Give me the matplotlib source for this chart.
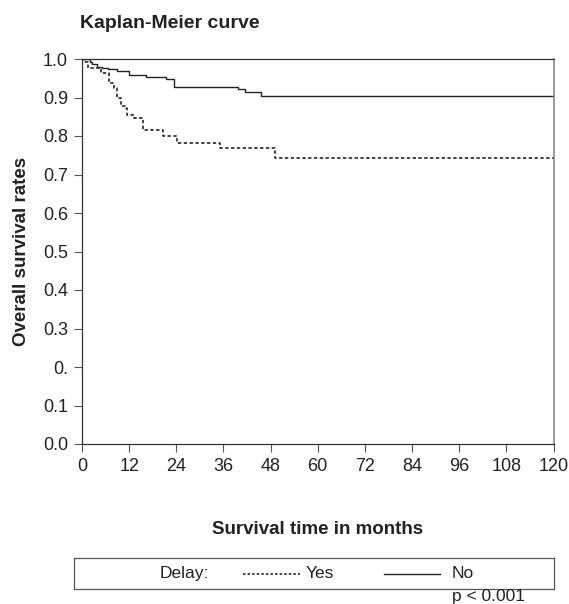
import matplotlib
matplotlib.use("Agg")
import matplotlib.pyplot as plt

plt.rcParams['font.family'] = ['Liberation Sans', 'DejaVu Sans']

# Kaplan-Meier step data (months, survival rate)
yes_t = [0, 0.6, 1.4, 4.9, 6.9, 8.2, 9.0, 10.0, 11.1, 11.5, 13.2, 15.6, 20.5, 24.2, 35.2, 49.2, 120]
yes_s = [1.0, 0.992, 0.977, 0.964, 0.938, 0.925, 0.900, 0.878, 0.872, 0.854, 0.846, 0.815, 0.800, 0.783, 0.768, 0.742, 0.742]

no_t = [0, 2.0, 2.6, 3.9, 5.2, 6.5, 9.0, 12.0, 16.3, 21.4, 23.5, 39.7, 41.5, 45.6, 120]
no_s = [1.0, 0.992, 0.986, 0.980, 0.977, 0.973, 0.970, 0.958, 0.953, 0.947, 0.927, 0.921, 0.914, 0.905, 0.905]

x_ticks = [0, 12, 24, 36, 48, 60, 72, 84, 96, 108, 120]
y_ticks = [0.0, 0.1, 0.2, 0.3, 0.4, 0.5, 0.6, 0.7, 0.8, 0.9, 1.0]
y_labels = ['0.0', '0.1', '0.', '0.3', '0.4', '0.5', '0.6', '0.7', '0.8', '0.9', '1.0']

fig = plt.figure(figsize=(5.69, 6.04), dpi=100)
ax = fig.add_axes([82 / 569, 1 - 444 / 604, (553.5 - 82) / 569, (444 - 59) / 604])

ax.step(yes_t, yes_s, where='post', color='#111111', lw=1.1, linestyle=(0, (2.2, 1.6)))
ax.step(no_t, no_s, where='post', color='#222222', lw=1.0)

ax.set_xlim(0, 120)
ax.set_ylim(0, 1.0)
ax.set_xticks(x_ticks)
ax.set_yticks(y_ticks)
ax.set_yticklabels(y_labels)
ax.tick_params(axis='both', direction='out', length=6, width=0.8, color='#555555',
               labelsize=13, labelcolor='#222222', pad=4)

for side in ['left', 'bottom', 'top']:
    ax.spines[side].set_color('#333333')
    ax.spines[side].set_linewidth(0.9)
ax.spines['right'].set_color('#888888')
ax.spines['right'].set_linewidth(1.2)

ax.set_ylabel('Overall survival rates', fontsize=13.5, fontweight='bold', color='#222222', labelpad=9)
ax.set_xlabel('Survival time in months', fontsize=13.5, fontweight='bold', color='#222222', labelpad=33)

fig.text(80 / 569, 1 - 23 / 604, 'Kaplan-Meier curve', fontsize=14, fontweight='bold',
         color='#222222', va='center', ha='left')

# legend box, data coords = figure pixels
box = fig.add_axes([74 / 569, 1 - 589 / 604, (554 - 74) / 569, (589 - 558) / 604])
box.set_xlim(74, 554)
box.set_ylim(0, 1)
box.set_xticks([])
box.set_yticks([])
for sp in box.spines.values():
    sp.set_color('#555555')
    sp.set_linewidth(0.9)
box.text(184, 0.5, 'Delay:', fontsize=12.5, ha='center', va='center', color='#222222')
box.plot([243, 300], [0.5, 0.5], color='#111111', lw=1.1, linestyle=(0, (1.6, 1.4)))
box.text(306, 0.5, 'Yes', fontsize=12.5, ha='left', va='center', color='#222222')
box.plot([384, 440], [0.5, 0.5], color='#222222', lw=1.0)
box.text(452, 0.5, 'No', fontsize=12.5, ha='left', va='center', color='#222222')

fig.text(452 / 569, 1 - 597 / 604, 'p < 0.001', fontsize=12.5, ha='left', va='center', color='#222222')

fig.savefig('out.png', dpi=100)
